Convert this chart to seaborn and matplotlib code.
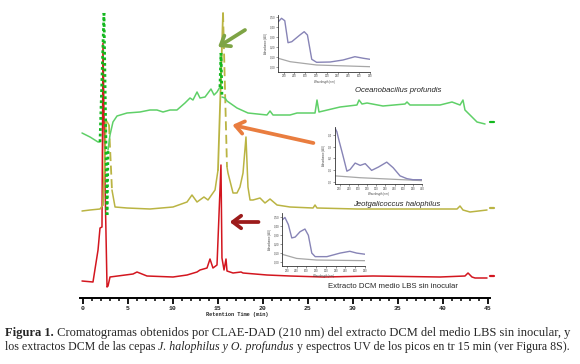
import numpy as np
import seaborn as sns
import matplotlib.pyplot as plt
from matplotlib.ticker import MultipleLocator, FixedLocator

# --- chromatograms: retention time (min) and signal (a.u., stacked) ---
green_t = [-0.11, 0.78, 1.67, 1.89, 2.33, 2.67, 2.78, 3.0, 3.33, 3.78, 4.89, 6.33, 7.44, 8.22,
           8.89, 9.67, 10.44, 11.33, 11.89, 12.22, 12.67, 13.0, 13.56, 14.22, 14.56, 14.89,
           15.22, 15.33, 15.44, 15.78, 16.0, 17.11, 18.33, 20.44, 20.78, 21.11, 23.0, 23.78,
           25.78, 26.0, 26.22, 28.56, 30.44, 30.67, 31.0, 31.56, 33.33, 35.78, 36.0, 36.33,
           39.67, 41.0, 41.89, 42.22, 42.44, 43.0, 43.78, 44.67]
green_v = [165, 161, 156, 156, 285, 83, 148, 163, 176, 182, 185, 186, 188, 188,
           186, 188, 188, 195, 200, 198, 206, 200, 201, 209, 203, 206,
           211, 245, 201, 200, 197, 190, 185, 183, 187, 183, 183, 185,
           185, 198, 186, 191, 193, 198, 194, 195, 192, 194, 196, 193,
           193, 196, 193, 198, 188, 183, 176, 174]

olive_t = [-0.11, 0.78, 1.89, 2.22, 2.56, 2.89, 3.22, 3.56, 4.89, 7.44, 10.0, 11.56, 12.11,
           12.67, 13.44, 13.89, 14.67, 15.0, 15.56, 16.0, 16.11, 16.67, 17.11, 17.44, 17.78,
           18.11, 18.33, 18.56, 18.89, 19.67, 20.22, 20.78, 21.56, 23.0, 25.56, 25.78, 26.0,
           30.44, 35.22, 41.56, 41.89, 42.22, 43.0, 44.89]
olive_v = [87, 88, 89, 93, 178, 173, 108, 91, 90, 89, 91, 96, 103,
           96, 101, 98, 108, 128, 285, 131, 125, 105, 105, 111, 125,
           161, 111, 98, 98, 100, 95, 99, 93, 91, 90, 93, 90,
           89, 89, 89, 92, 88, 86, 88]

red_t = [-0.11, 1.11, 1.67, 1.89, 2.11, 2.22, 2.44, 2.67, 2.78, 3.0, 5.56, 6.0, 7.11, 10.0,
         11.56, 12.67, 13.0, 13.78, 14.11, 14.44, 14.89, 15.33, 15.44, 15.67, 15.89, 16.0,
         16.67, 17.56, 17.78, 20.44, 23.0, 26.67, 32.22, 39.67, 42.44, 42.78, 43.22, 43.56, 44.89]
red_v = [17, 16, 48, 70, 71, 255, 118, 11, 12, 21, 24, 26, 22, 21,
         23, 26, 28, 30, 39, 30, 33, 133, 40, 28, 39, 27,
         25, 26, 25, 23, 22, 21, 22, 21, 22, 25, 21, 20, 20]

# --- UV spectra of the 15 min peaks: wavelength (nm) and absorbance (AU) ---
uv1_nm = [210, 216, 222, 228, 235, 250, 258, 264, 272, 281, 306, 330, 352, 368, 380]
uv1_abs = [0.45, 0.484, 0.46, 0.24, 0.25, 0.317, 0.35, 0.317, 0.074, 0.044, 0.047, 0.067, 0.10, 0.084, 0.074]
uv1_base_nm = [210, 232, 281, 380]
uv1_base = [0.084, 0.05, 0.017, 0.0]

uv2_nm = [210, 214, 219, 227, 236, 243, 254, 265, 276, 290, 305, 323, 337, 352, 367, 380, 400]
uv2_abs = [0.46, 0.43, 0.35, 0.23, 0.09, 0.105, 0.16, 0.14, 0.155, 0.097, 0.126, 0.168, 0.12,
           0.05, 0.026, 0.017, 0.017]
uv2_base_nm = [210, 265, 400]
uv2_base = [0.05, 0.034, 0.009]

uv3_nm = [210, 216, 223, 230, 237, 247, 257, 264, 271, 278, 302, 329, 349, 363, 380]
uv3_abs = [0.47, 0.50, 0.42, 0.27, 0.28, 0.34, 0.37, 0.30, 0.10, 0.06, 0.06, 0.10, 0.12, 0.10, 0.087]
uv3_base_nm = [210, 240, 281, 380]
uv3_base = [0.087, 0.04, 0.022, 0.015]

labels = ["Oceanobacillus profundis", "Jeotgalicoccus halophilus", "Extracto DCM medio LBS sin inocular"]

GREEN, GREEN_DOT = "#5fd068", "#13b81e"
OLIVE = "#bab443"
RED = "#d3161f"
PURPLE, GRAY = "#8784b6", "#a7a7a7"

sns.set_style("white")
plt.rcParams['font.family'] = ['Liberation Sans', 'DejaVu Sans']

fig = plt.figure(figsize=(5.8, 3.64), dpi=100)
ax = fig.add_axes([80 / 580, 66 / 364, 415.2 / 580, 298 / 364])
ax.set_facecolor("none")


def draw_trace(t, v, color, up_ls, down_ls, min_jump, spike_color=None, spike_lw=1.2):
    t = np.asarray(t, float)
    v = np.asarray(v, float)
    dv = np.diff(v)
    kind = np.where(dv > min_jump, 1, np.where(dv < -min_jump, -1, 0))
    start = 0
    for i in range(1, len(kind) + 1):
        if i == len(kind) or kind[i] != kind[start]:
            k = kind[start]
            ls = {0: '-', 1: up_ls, -1: down_ls}[k]
            c = color if (k == 0 or spike_color is None) else spike_color
            lw = 1.1 if k == 0 else spike_lw
            sns.lineplot(x=t[start:i + 1], y=v[start:i + 1], ax=ax, color=c, lw=lw,
                         linestyle=ls, sort=False, estimator=None)
            start = i
    # little end mark after the run
    ax.plot([45.2, 45.7], [v[-1] + 2, v[-1] + 2], color=spike_color or color, lw=1.6, clip_on=False)


draw_trace(red_t, red_v, RED, '-', '-', 1e9, spike_lw=1.3)
draw_trace(olive_t, olive_v, OLIVE, '-', (0, (5, 2.5)), 60, spike_lw=1.3)
draw_trace(green_t, green_v, GREEN, (0, (1, 1)), (0, (1, 1)), 30, spike_color=GREEN_DOT, spike_lw=2)

ax.set_xlim(-0.333, 45.8)
ax.set_ylim(0, 298)
for s in ["left", "right", "top"]:
    ax.spines[s].set_visible(False)
ax.spines["bottom"].set_bounds(-0.333, 45.22)
ax.spines["bottom"].set_linewidth(1.4)
ax.spines["bottom"].set_color("black")
ax.set_yticks([])
ax.xaxis.set_major_locator(FixedLocator(range(0, 50, 5)))
ax.xaxis.set_minor_locator(MultipleLocator(1))
ax.tick_params(axis="x", which="major", direction="out", length=4, width=1.3, color="black",
               pad=1.5, labelsize=4.6, bottom=True)
ax.tick_params(axis="x", which="minor", direction="out", length=2.5, width=1.1, color="black", bottom=True)
for lab in ax.get_xticklabels():
    lab.set_family(["Liberation Mono", "DejaVu Sans Mono"])
    lab.set_weight("bold")
ax.set_xlabel("Retention Time (min)", fontsize=3.8, family=["Liberation Mono", "DejaVu Sans Mono"],
              weight="bold")
ax.xaxis.set_label_coords(0.379, -0.047)

# labels of the traces
ax.text(30.2, 207, labels[0], fontsize=5.6, style="italic", va="center", ha="left")
ax.text(30.0, 93, labels[1], fontsize=5.6, style="italic", va="center", ha="left")
ax.text(27.2, 11, labels[2], fontsize=5.6, va="center", ha="left")

# arrows pointing at the 15 min peaks
arrow = dict(arrowstyle="->,head_length=0.6,head_width=0.45", lw=2.7, shrinkA=0, shrinkB=0)
ax.annotate("", xy=(15.0, 251), xytext=(18.0, 268), arrowprops={**arrow, "color": "#7ea445"})
ax.annotate("", xy=(16.6, 173), xytext=(25.6, 155), arrowprops={**arrow, "color": "#e97d3f"})
ax.annotate("", xy=(16.3, 76), xytext=(19.5, 76), arrowprops={**arrow, "color": "#9c1b1b"})


def inset(rect, nm, ab, base_nm, base, xlim, ylim, yticks, yfmt, xticks):
    ia = fig.add_axes(rect)
    ia.set_facecolor("none")
    sns.lineplot(x=base_nm, y=base, ax=ia, color=GRAY, lw=0.9, sort=False, estimator=None)
    sns.lineplot(x=nm, y=ab, ax=ia, color=PURPLE, lw=1.0, sort=False, estimator=None)
    ia.set_xlim(*xlim)
    ia.set_ylim(*ylim)
    for s in ["right", "top"]:
        ia.spines[s].set_visible(False)
    for s in ["left", "bottom"]:
        ia.spines[s].set_linewidth(0.6)
        ia.spines[s].set_color("#333333")
    ia.set_yticks(yticks)
    ia.set_yticklabels([yfmt.format(y).replace(".", ",") for y in yticks])
    ia.set_xticks(xticks)
    ia.set_xticklabels([str(x) for x in xticks])
    ia.tick_params(labelsize=2.0, length=1.2, width=0.4, pad=0.8, left=True, bottom=True,
                   colors="#444444")
    ia.set_xlabel("Wavelength (nm)", fontsize=2.0, labelpad=0.8, color="#444444")
    ia.set_ylabel("Absorbance (AU)", fontsize=2.0, labelpad=1.5, color="#444444")
    return ia


inset([278.3 / 580, (364 - 71.7) / 364, 91.7 / 580, 56.7 / 364], uv1_nm, uv1_abs, uv1_base_nm, uv1_base,
      (210, 380), (-0.05, 0.517), [0, 0.1, 0.2, 0.3, 0.4, 0.5], "{:.2f}", list(range(220, 381, 20)))
inset([335 / 580, (364 - 184) / 364, 87 / 580, 57 / 364], uv2_nm, uv2_abs, uv2_base_nm, uv2_base,
      (210, 400), (-0.02, 0.47), [0, 0.1, 0.2, 0.3, 0.4], "{:.1f}", list(range(220, 401, 20)))
inset([282 / 580, (364 - 266) / 364, 83 / 580, 53 / 364], uv3_nm, uv3_abs, uv3_base_nm, uv3_base,
      (210, 380), (-0.045, 0.55), [0, 0.1, 0.2, 0.3, 0.4, 0.5], "{:.2f}", list(range(220, 381, 20)))

# caption with mixed bold / italic runs
serif = ["Liberation Serif", "DejaVu Serif"]
renderer = fig.canvas.get_renderer()


def caption_line(y, pieces, size, x0=5):
    x = x0 / 580
    for txt, kw in pieces:
        t = fig.text(x, y, txt, fontsize=size, family=serif, va="baseline", ha="left", **kw)
        bb = t.get_window_extent(renderer=renderer)
        x = bb.x1 / fig.bbox.width


caption_line((364 - 336) / 364, [("Figura 1.", {"weight": "bold"}),
                                 (" Cromatogramas obtenidos por CLAE-DAD (210 nm) del extracto DCM del medio LBS sin inocular, y", {})],
             9.0)
caption_line((364 - 350) / 364, [("los extractos DCM de las cepas ", {}),
                                 ("J. halophilus y O. profundus", {"style": "italic"}),
                                 (" y espectros UV de los picos en tr 15 min (ver Figura 8S).", {})],
             8.6)

fig.savefig("out.png", dpi=100)
